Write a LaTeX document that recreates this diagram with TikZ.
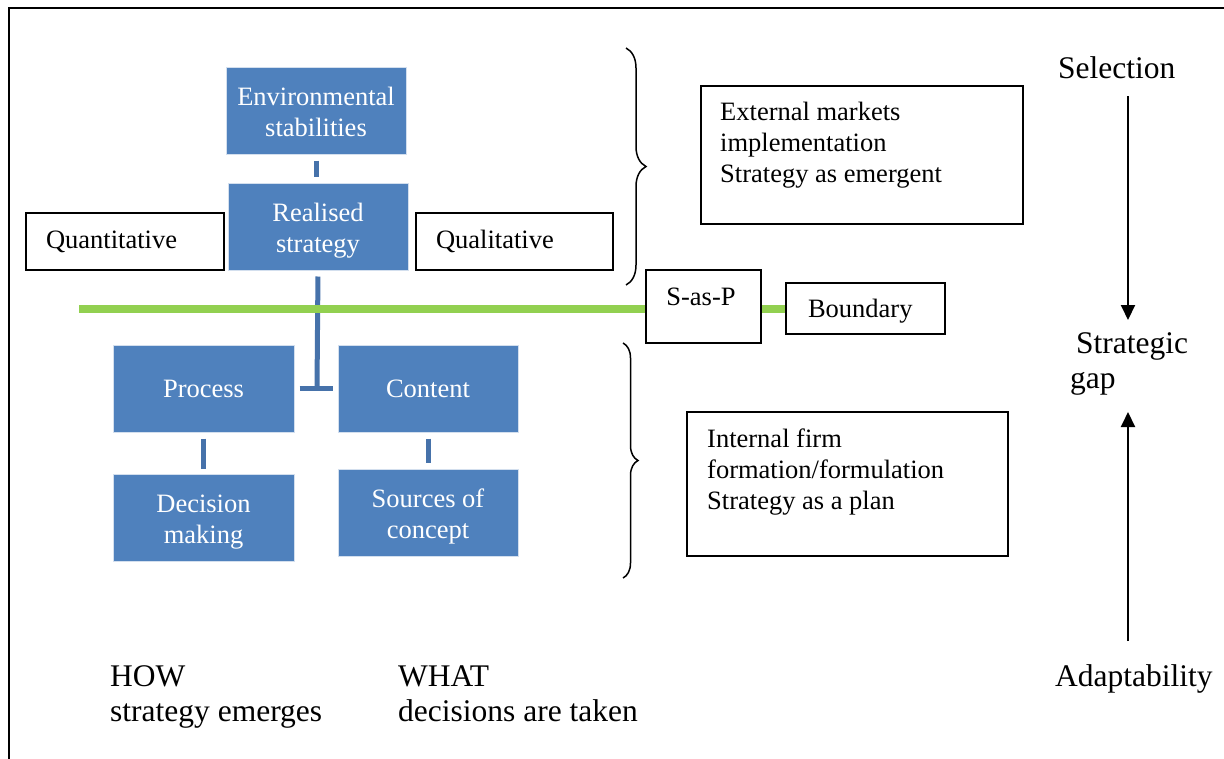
\documentclass[tikz,border=0pt]{standalone}
\usepackage{fontspec}
\setmainfont{Liberation Serif}
\usetikzlibrary{arrows.meta,decorations.pathreplacing}
\definecolor{boxblue}{HTML}{4F81BD}
\definecolor{linkblue}{HTML}{4672AA}
\definecolor{boundgreen}{HTML}{92D050}
\newcommand{\boxfont}{\fontsize{26.5}{31}\selectfont}
\newcommand{\bigfont}{\fontsize{31.5}{35}\selectfont}
% two centred lines, set a little low in their box
\newcommand{\twolines}[2]{\raisebox{-4pt}[\height][\depth]{\begin{tabular}{@{}c@{}}#1\\#2\end{tabular}}}

\begin{document}
\begin{tikzpicture}[x=1pt,y=-1pt,
  bluebox/.style={fill=boxblue, draw=white!75!boxblue, line width=1pt, text=white,
    font=\boxfont, inner sep=0pt, minimum width=180pt, minimum height=87pt},
  framebox/.style={draw=black, fill=white, line width=2pt, font=\boxfont, align=left,
    anchor=north west, inner ysep=0pt},
  link/.style={draw=linkblue, line width=5pt},
  boundary/.style={draw=boundgreen, line width=8pt},
  curly/.style={decorate, line width=1.5pt},
  vert/.style={line width=2pt, -{Triangle[length=15pt,width=14pt]}},
  label/.style={font=\bigfont, align=left, anchor=base west, inner sep=0pt},
  boxtext/.style={font=\boxfont, align=left, anchor=north west, inner sep=0pt}
]
\useasboundingbox (0,0) rectangle (1224,758);

% outer frame (left and top edges)
\draw[line width=2.5pt] (9,760) -- (9,8) -- (1226,8);

% blue hierarchy
\node[bluebox] (env)  at (316,110.5)   {\twolines{Environmental}{stabilities}};
\node[bluebox] (real) at (318,226.5)   {\twolines{Realised}{strategy}};
\node[bluebox, minimum width=181pt] (proc) at (203.5,388.5) {Process};
\node[bluebox] (cont) at (428,388.5)   {Content};
\node[bluebox, minimum width=181pt] (dec)  at (203.5,518) {\twolines{Decision}{making}};
\node[bluebox] (src)  at (428,513)     {\twolines{Sources of}{concept}};

% side boxes of the realised strategy
\node[framebox, minimum width=198pt, minimum height=57pt, text width=158pt, inner xsep=20pt]
  (quant) at (25,212) {Quantitative};
\node[framebox, minimum width=197pt, minimum height=57pt, text width=157pt, inner xsep=20pt]
  (qual) at (415,212) {Qualitative};

% connectors of the hierarchy
\draw[link, shorten <=6pt, shorten >=6pt] (env.south) -- (env.south |- real.north);
\draw[link, shorten <=6pt] (real.south) -- ([xshift=-1pt]real.south |- proc.east);
\draw[link] ([xshift=5pt]proc.east) -- ([xshift=-5pt]cont.west);
\draw[link, shorten <=6pt, shorten >=5pt] (proc.south) -- (dec.north);
\draw[link, shorten <=6pt, shorten >=6pt] (cont.south) -- (src.north);

% boundary line with its boxes
\node[framebox, minimum width=115pt, minimum height=73pt] (sasp) at (645,269) {};
\node[boxtext, anchor=center] (sasptext) at (701,297) {S-as-P};
\node[framebox, minimum width=159pt, minimum height=51pt, text width=115pt, inner xsep=22pt,
  text depth=0pt] (bound) at (785,282) {Boundary};
\coordinate (gstart) at (79,309);
\draw[boundary] (gstart) -- (gstart -| sasp.west);
\draw[boundary] (sasp.east |- gstart) -- (bound.west |- gstart);

% description boxes
\node[framebox, minimum width=322pt, minimum height=138pt] (ext) at (700,85) {};
\node[boxtext] (exttext) at (720,102) {External markets\\implementation\\Strategy as emergent};
\node[framebox, minimum width=321pt, minimum height=144pt] (int) at (686,411) {};
\node[boxtext] (inttext) at (707,429) {Internal firm\\formation/formulation\\Strategy as a plan};

% braces
\draw[curly, decoration={brace, amplitude=20pt}] (626,48) -- (626,285);
\draw[curly, decoration={brace, amplitude=15pt}] (623,343) -- (623,578);

% right-hand scale
\node[label] (sel) at (1058,78) {Selection};
\node[label] (gap) at (1070,388) {\hspace*{6pt}Strategic\\gap};
\node[label] (adapt) at (1055,686) {Adaptability};
\coordinate (downfrom) at (1128,96);
\coordinate (downto) at (1128,320);
\coordinate (upfrom) at (1128,641);
\coordinate (upto) at (1128,412);
\draw[vert] (downfrom) -- (downto);
\draw[vert] (upfrom) -- (upto);

% bottom captions
\node[label] (how) at (110,721) {HOW\\strategy emerges};
\node[label] (what) at (398,721) {WHAT\\decisions are taken};
\end{tikzpicture}
\end{document}
